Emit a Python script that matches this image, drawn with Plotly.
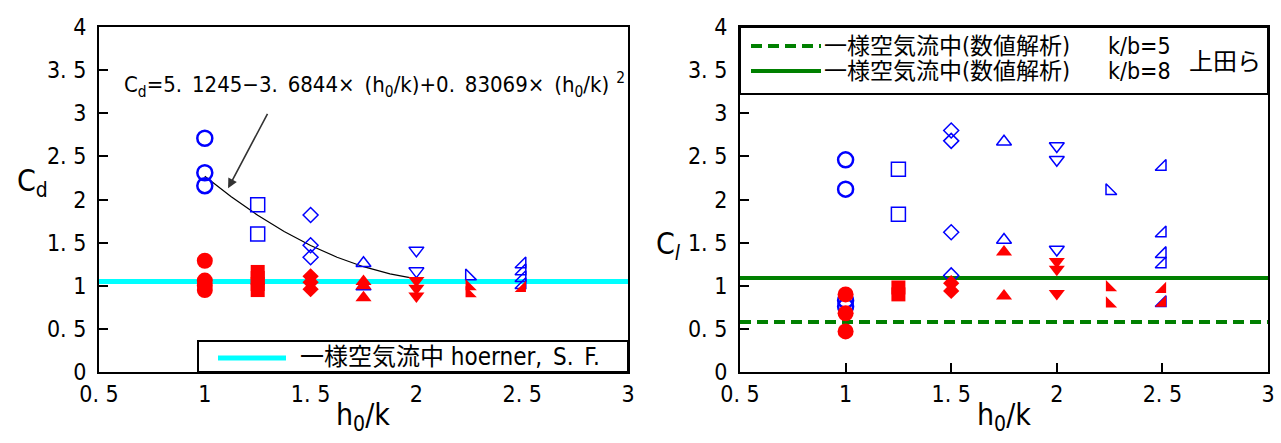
import plotly.graph_objects as go

W, H = 1281, 443

# ---------------- data: left chart (Cd) ----------------
cd_open_circle_x = [1.0, 1.0, 1.0]
cd_open_circle_y = [2.71, 2.31, 2.16]
cd_open_square_x = [1.25, 1.25]
cd_open_square_y = [1.94, 1.60]
cd_open_diamond_x = [1.5, 1.5, 1.5]
cd_open_diamond_y = [1.82, 1.47, 1.33]
cd_open_triup_x = [1.75, 1.75]
cd_open_triup_y = [1.26, 0.99]
cd_open_tridown_x = [2.0, 2.0]
cd_open_tridown_y = [1.41, 1.17]
cd_open_trisw_x = [2.25]
cd_open_trisw_y = [1.11]
cd_open_trise_x = [2.5, 2.5, 2.5, 2.5]
cd_open_trise_y = [1.25, 1.17, 1.09, 1.01]

cd_fill_circle_x = [1.0, 1.0, 1.0, 1.0]
cd_fill_circle_y = [1.29, 1.06, 1.00, 0.95]
cd_fill_square_x = [1.25, 1.25, 1.25, 1.25]
cd_fill_square_y = [1.16, 1.09, 1.02, 0.95]
cd_fill_diamond_x = [1.5, 1.5, 1.5]
cd_fill_diamond_y = [1.11, 1.04, 0.96]
cd_fill_triup_x = [1.75, 1.75, 1.75]
cd_fill_triup_y = [1.05, 1.00, 0.86]
cd_fill_tridown_x = [2.0, 2.0, 2.0]
cd_fill_tridown_y = [1.06, 0.97, 0.88]
cd_fill_trisw_x = [2.25, 2.25]
cd_fill_trisw_y = [0.99, 0.91]
cd_fill_trise_x = [2.5]
cd_fill_trise_y = [0.97]

# fitted curve
fit_x = [1.0, 1.125, 1.25, 1.375, 1.5, 1.625, 1.75, 1.875, 2.0]
fit_y = [2.27, 2.031, 1.817, 1.629, 1.467, 1.331, 1.221, 1.137, 1.079]

hoerner_x = [0.5, 3.0]
hoerner_y = [1.05, 1.05]

# ---------------- data: right chart (Cl) ----------------
cl_open_circle_x = [1.0, 1.0, 1.0, 1.0]
cl_open_circle_y = [2.46, 2.12, 0.83, 0.76]
cl_open_square_x = [1.25, 1.25]
cl_open_square_y = [2.35, 1.83]
cl_open_diamond_x = [1.5, 1.5, 1.5, 1.5]
cl_open_diamond_y = [2.80, 2.68, 1.62, 1.12]
cl_open_triup_x = [1.75, 1.75]
cl_open_triup_y = [2.67, 1.53]
cl_open_tridown_x = [2.0, 2.0, 2.0]
cl_open_tridown_y = [2.62, 2.46, 1.42]
cl_open_trisw_x = [2.25]
cl_open_trisw_y = [2.10]
cl_open_trise_x = [2.5, 2.5, 2.5, 2.5, 2.5]
cl_open_trise_y = [2.38, 1.61, 1.37, 1.25, 0.80]

cl_fill_circle_x = [1.0, 1.0, 1.0]
cl_fill_circle_y = [0.90, 0.68, 0.47]
cl_fill_square_x = [1.25, 1.25]
cl_fill_square_y = [0.98, 0.90]
cl_fill_diamond_x = [1.5, 1.5]
cl_fill_diamond_y = [1.03, 0.94]
cl_fill_triup_x = [1.75, 1.75]
cl_fill_triup_y = [1.39, 0.88]
cl_fill_tridown_x = [2.0, 2.0, 2.0]
cl_fill_tridown_y = [1.28, 1.19, 0.91]
cl_fill_trisw_x = [2.25, 2.25]
cl_fill_trisw_y = [0.98, 0.79]
cl_fill_trise_x = [2.5, 2.5]
cl_fill_trise_y = [0.96, 0.80]

num_x = [0.5, 3.0]
num_k5_y = [0.58, 0.58]
num_k8_y = [1.09, 1.09]

tick_vals_x = [0.5, 1, 1.5, 2, 2.5, 3]
tick_text_x = ["0. 5", "1", "1. 5", "2", "2. 5", "3"]
tick_vals_y = [0, 0.5, 1, 1.5, 2, 2.5, 3, 3.5, 4]
tick_text_y = ["0", "0. 5", "1", "1. 5", "2", "2. 5", "3", "3. 5", "4"]

FONT = "Liberation Sans Narrow, DejaVu Sans Condensed, Noto Sans CJK JP, sans-serif"
BLUE = "#0000FF"
RED = "#FF0000"

fig = go.Figure()


def add_open(x, y, sym, size, xa, ya, lw=1.5):
    fig.add_trace(go.Scatter(x=x, y=y, mode="markers", xaxis=xa, yaxis=ya, showlegend=False,
                             marker=dict(symbol=sym + "-open", size=size, color=BLUE,
                                         line=dict(color=BLUE, width=lw))))


def add_fill(x, y, sym, size, xa, ya):
    fig.add_trace(go.Scatter(x=x, y=y, mode="markers", xaxis=xa, yaxis=ya, showlegend=False,
                             marker=dict(symbol=sym, size=size, color=RED, line=dict(width=0))))


# left chart lines
fig.add_trace(go.Scatter(x=hoerner_x, y=hoerner_y, mode="lines", xaxis="x", yaxis="y",
                         showlegend=False, line=dict(color="#00FFFF", width=5)))
fig.add_trace(go.Scatter(x=fit_x, y=fit_y, mode="lines", xaxis="x", yaxis="y",
                         showlegend=False, line=dict(color="black", width=1.2)))

add_open(cd_open_circle_x, cd_open_circle_y, "circle", 15, "x", "y", 2.5)
add_open(cd_open_square_x, cd_open_square_y, "square", 14, "x", "y")
add_open(cd_open_diamond_x, cd_open_diamond_y, "diamond", 11.5, "x", "y")
add_open(cd_open_triup_x, cd_open_triup_y, "triangle-up", 13, "x", "y")
add_open(cd_open_tridown_x, cd_open_tridown_y, "triangle-down", 13, "x", "y")
add_open(cd_open_trisw_x, cd_open_trisw_y, "triangle-sw", 12, "x", "y")
add_open(cd_open_trise_x, cd_open_trise_y, "triangle-se", 12, "x", "y")

add_fill(cd_fill_circle_x, cd_fill_circle_y, "circle", 16, "x", "y")
add_fill(cd_fill_square_x, cd_fill_square_y, "square", 14, "x", "y")
add_fill(cd_fill_diamond_x, cd_fill_diamond_y, "diamond", 12.5, "x", "y")
add_fill(cd_fill_triup_x, cd_fill_triup_y, "triangle-up", 14, "x", "y")
add_fill(cd_fill_tridown_x, cd_fill_tridown_y, "triangle-down", 14, "x", "y")
add_fill(cd_fill_trisw_x, cd_fill_trisw_y, "triangle-sw", 12.5, "x", "y")
add_fill(cd_fill_trise_x, cd_fill_trise_y, "triangle-se", 12.5, "x", "y")

# right chart lines
fig.add_trace(go.Scatter(x=num_x, y=num_k5_y, mode="lines", xaxis="x2", yaxis="y2",
                         showlegend=False, line=dict(color="#008000", width=4, dash="11px,6px")))
fig.add_trace(go.Scatter(x=num_x, y=num_k8_y, mode="lines", xaxis="x2", yaxis="y2",
                         showlegend=False, line=dict(color="#008000", width=4)))

add_open(cl_open_circle_x, cl_open_circle_y, "circle", 15, "x2", "y2", 2.5)
add_open(cl_open_square_x, cl_open_square_y, "square", 14, "x2", "y2")
add_open(cl_open_diamond_x, cl_open_diamond_y, "diamond", 11.5, "x2", "y2")
add_open(cl_open_triup_x, cl_open_triup_y, "triangle-up", 13, "x2", "y2")
add_open(cl_open_tridown_x, cl_open_tridown_y, "triangle-down", 13, "x2", "y2")
add_open(cl_open_trisw_x, cl_open_trisw_y, "triangle-sw", 12, "x2", "y2")
add_open(cl_open_trise_x, cl_open_trise_y, "triangle-se", 12, "x2", "y2")

add_fill(cl_fill_circle_x, cl_fill_circle_y, "circle", 16, "x2", "y2")
add_fill(cl_fill_square_x, cl_fill_square_y, "square", 14, "x2", "y2")
add_fill(cl_fill_diamond_x, cl_fill_diamond_y, "diamond", 12.5, "x2", "y2")
add_fill(cl_fill_triup_x, cl_fill_triup_y, "triangle-up", 14, "x2", "y2")
add_fill(cl_fill_tridown_x, cl_fill_tridown_y, "triangle-down", 14, "x2", "y2")
add_fill(cl_fill_trisw_x, cl_fill_trisw_y, "triangle-sw", 12.5, "x2", "y2")
add_fill(cl_fill_trise_x, cl_fill_trise_y, "triangle-se", 12.5, "x2", "y2")


def px(v):
    return v / W


def py(v):
    return 1 - v / H


axis_common = dict(showgrid=False, zeroline=False, showline=True, linecolor="black", linewidth=2,
                   mirror=True, ticks="inside", ticklen=9, tickwidth=1.5, tickcolor="black",
                   automargin=False,
                   tickfont=dict(family=FONT, size=23, color="black"))

fig.update_layout(
    width=W, height=H,
    margin=dict(l=0, r=0, t=0, b=0),
    paper_bgcolor="white", plot_bgcolor="white",
    xaxis=dict(domain=[px(99), px(628)], range=[0.5, 3], tickvals=tick_vals_x, ticktext=tick_text_x,
               anchor="y", ticklabelstandoff=0, **axis_common),
    yaxis=dict(domain=[py(372), py(27)], range=[0, 4], tickvals=tick_vals_y, ticktext=tick_text_y,
               anchor="x", ticklabelstandoff=6, **axis_common),
    xaxis2=dict(domain=[px(740), px(1268)], range=[0.5, 3], tickvals=tick_vals_x, ticktext=tick_text_x,
                anchor="y2", ticklabelstandoff=0, **axis_common),
    yaxis2=dict(domain=[py(372), py(27)], range=[0, 4], tickvals=tick_vals_y, ticktext=tick_text_y,
                anchor="x2", ticklabelstandoff=6, **axis_common),
)

# legend boxes
fig.add_shape(type="rect", xref="paper", yref="paper", x0=px(198), x1=px(628), y0=py(372), y1=py(341),
              fillcolor="white", line=dict(color="black", width=2), layer="above")
fig.add_shape(type="line", xref="paper", yref="paper", x0=px(218), x1=px(286), y0=py(358), y1=py(358),
              line=dict(color="#00FFFF", width=5), layer="above")
fig.add_shape(type="rect", xref="paper", yref="paper", x0=px(740), x1=px(1268), y0=py(94), y1=py(27),
              fillcolor="white", line=dict(color="black", width=2), layer="above")
fig.add_shape(type="line", xref="paper", yref="paper", x0=px(751), x1=px(821), y0=py(46), y1=py(46),
              line=dict(color="#008000", width=4, dash="11px,6px"), layer="above")
fig.add_shape(type="line", xref="paper", yref="paper", x0=px(751), x1=px(821), y0=py(71), y1=py(71),
              line=dict(color="#008000", width=4), layer="above")

ann = []
tf = dict(family=FONT, size=24, color="black")
tf2 = dict(family=FONT, size=23, color="black")
ann.append(dict(text="一様空気流中 hoerner,\u2002S.\u2002F.", xref="paper", yref="paper", x=px(298), y=py(357),
                xanchor="left", yanchor="middle", showarrow=False, font=tf))
ann.append(dict(text="一様空気流中(数値解析)", xref="paper", yref="paper", x=px(822), y=py(46),
                xanchor="left", yanchor="middle", showarrow=False, font=tf2))
ann.append(dict(text="一様空気流中(数値解析)", xref="paper", yref="paper", x=px(822), y=py(71),
                xanchor="left", yanchor="middle", showarrow=False, font=tf2))
ann.append(dict(text="k/b=5", xref="paper", yref="paper", x=px(1106), y=py(46),
                xanchor="left", yanchor="middle", showarrow=False, font=tf2))
ann.append(dict(text="k/b=8", xref="paper", yref="paper", x=px(1106), y=py(71),
                xanchor="left", yanchor="middle", showarrow=False, font=tf2))
ann.append(dict(text="上田ら", xref="paper", yref="paper", x=px(1187), y=py(62),
                xanchor="left", yanchor="middle", showarrow=False, font=tf))
# axis titles
big = dict(family=FONT, size=30, color="black")
ann.append(dict(text="C<sub>d</sub>", xref="paper", yref="paper", x=px(32), y=py(182),
                xanchor="center", yanchor="middle", showarrow=False, font=big))
ann.append(dict(text="C<sub><i>l</i></sub>", xref="paper", yref="paper", x=px(668), y=py(246),
                xanchor="center", yanchor="middle", showarrow=False, font=big))
ann.append(dict(text="h<sub>0</sub>/k", xref="paper", yref="paper", x=px(363), y=py(416),
                xanchor="center", yanchor="middle", showarrow=False, font=big))
ann.append(dict(text="h<sub>0</sub>/k", xref="paper", yref="paper", x=px(1004), y=py(416),
                xanchor="center", yanchor="middle", showarrow=False, font=big))
# equation and arrow
ann.append(dict(text="C<sub>d</sub>=5.\u20021245−3.\u20026844×\u2002(h<sub>0</sub>/k)+0.\u200283069×\u2002(h<sub>0</sub>/k)<sup>\u20022</sup>",
                xref="x", yref="y", x=1.8, y=3.33, xanchor="center", yanchor="middle",
                showarrow=False, font=dict(family=FONT, size=22, color="black")))
ann.append(dict(text="", xref="x", yref="y", x=1.11, y=2.13, axref="x", ayref="y", ax=1.30, ay=3.01,
                showarrow=True, arrowhead=2, arrowsize=1.2, arrowwidth=1.6, arrowcolor="#333333"))
fig.update_layout(annotations=ann)

fig.write_html("out.html")
